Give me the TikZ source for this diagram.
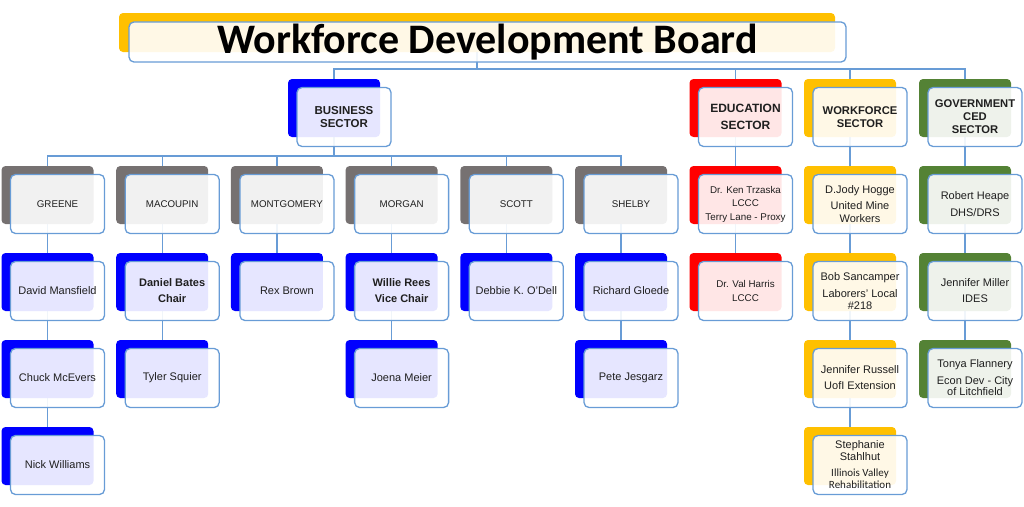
\documentclass[tikz,border=0pt]{standalone}
\usepackage{fontspec}
\setmainfont{Liberation Sans}
\newfontfamily\calfont{Carlito}
\definecolor{orgblue}{RGB}{0,0,255}
\definecolor{orggrey}{RGB}{118,113,113}
\definecolor{orgred}{RGB}{255,0,0}
\definecolor{orgorange}{RGB}{255,192,0}
\definecolor{orggreen}{RGB}{84,130,53}
\definecolor{line}{RGB}{104,156,214}
\usetikzlibrary{backgrounds}
\tikzstyle{base}=[x=1pt, y=-1pt, inner sep=2pt, outer sep=0pt]
\tikzstyle{back}=[rounded corners=4pt, minimum width=92pt, minimum height=58pt]
\tikzstyle{front}=[draw=line, line width=1.3pt, rounded corners=5pt, fill=white, fill opacity=0.9, text opacity=1, minimum width=94pt, minimum height=59pt, align=center, text=black!88]
\tikzstyle{link}=[draw=line, line width=1.2pt]
\newcommand*{\county}{\fontsize{9.75}{12}\selectfont}
\newcommand*{\person}{\fontsize{11}{12.5}\selectfont}
% back box, then the front box holding the text
\newcommand*{\orgbox}[6]{%
    \node [back, fill=#4] (#1) at (#2,#3) {};
    \node [front, font=#5] (#1-f) at (#2 + 10,#3 + 9) {#6};}

\begin{document}
\begin{tikzpicture}[base]
    \useasboundingbox (0,0) rectangle (1024,506);
    % title
    \node [back, fill=orgorange, minimum width=716pt, minimum height=39pt] (title) at (477,32.5) {};
    \node [front, minimum width=717pt, minimum height=40pt, text=black, font=\calfont\bfseries\fontsize{42}{46}\selectfont] (title-f) at (487.5,42) {Workforce Development Board};
    % sectors
    \orgbox{business}{334}{108}{orgblue}{\bfseries\fontsize{11.5}{13.5}\selectfont}{BUSINESS\\SECTOR}
    \orgbox{education}{735.5}{108}{orgred}{\bfseries\fontsize{12}{17}\selectfont}{EDUCATION\\SECTOR}
    \orgbox{workforce}{850}{108}{orgorange}{\bfseries\fontsize{11.2}{12.5}\selectfont}{WORKFORCE\\SECTOR}
    \orgbox{government}{965}{108}{orggreen}{\bfseries\fontsize{11.2}{13}\selectfont}{GOVERNMENT\\CED\\SECTOR}
    % counties
    \orgbox{greene}{47.5}{195}{orggrey}{\county}{GREENE}
    \orgbox{macoupin}{162.2}{195}{orggrey}{\county}{MACOUPIN}
    \orgbox{montgomery}{276.9}{195}{orggrey}{\county}{MONTGOMERY}
    \orgbox{morgan}{391.6}{195}{orggrey}{\county}{MORGAN}
    \orgbox{scott}{506.3}{195}{orggrey}{\county}{SCOTT}
    \orgbox{shelby}{621}{195}{orggrey}{\county}{SHELBY}
    % business members
    \orgbox{mansfield}{47.5}{282}{orgblue}{\person}{David Mansfield}
    \orgbox{mcevers}{47.5}{369}{orgblue}{\person}{Chuck McEvers}
    \orgbox{williams}{47.5}{456}{orgblue}{\person}{Nick Williams}
    \orgbox{bates}{162.2}{282}{orgblue}{\bfseries\fontsize{11}{16}\selectfont}{Daniel Bates\\Chair}
    \orgbox{squier}{162.2}{369}{orgblue}{\person}{Tyler Squier}
    \orgbox{brown}{276.9}{282}{orgblue}{\person}{Rex Brown}
    \orgbox{rees}{391.6}{282}{orgblue}{\bfseries\fontsize{11}{16}\selectfont}{Willie Rees\\Vice Chair}
    \orgbox{meier}{391.6}{369}{orgblue}{\person}{Joena Meier}
    \orgbox{odell}{506.3}{282}{orgblue}{\person}{Debbie K. O'Dell}
    \orgbox{gloede}{621}{282}{orgblue}{\person}{Richard Gloede}
    \orgbox{jesgarz}{621}{369}{orgblue}{\person}{Pete Jesgarz}
    % education
    \orgbox{trzaska}{735.5}{195}{orgred}{\fontsize{9.8}{13.5}\selectfont}{Dr. Ken Trzaska\\LCCC\\Terry Lane - Proxy}
    \orgbox{harris}{735.5}{282}{orgred}{\fontsize{9.8}{14}\selectfont}{Dr. Val Harris\\LCCC}
    % workforce
    \orgbox{hogge}{850}{195}{orgorange}{\person}{D.Jody Hogge\\[3.5pt]United Mine\\Workers}
    \orgbox{sancamper}{850}{282}{orgorange}{\fontsize{11}{11.5}\selectfont}{Bob Sancamper\\[5.5pt]Laborers' Local\\\#218}
    \orgbox{russell}{850}{369}{orgorange}{\person}{Jennifer Russell\\[3.5pt]UofI Extension}
    \orgbox{stahlhut}{850}{456}{orgorange}{\fontsize{11}{12}\selectfont}{Stephanie\\Stahlhut\\[4pt]{\calfont Illinois Valley}\\{\calfont Rehabilitation}}
    % government
    \orgbox{heape}{965}{195}{orggreen}{\person}{Robert Heape\\[4pt]DHS/DRS}
    \orgbox{miller}{965}{282}{orggreen}{\person}{Jennifer Miller\\[3.5pt]IDES}
    \orgbox{flannery}{965}{369}{orggreen}{\fontsize{11}{11.5}\selectfont}{Tonya Flannery\\[5pt]Econ Dev - City\\of Litchfield}
    % connectors, behind the boxes
    \coordinate (sectorbus) at (0,69);
    \coordinate (countybus) at (0,156);
    \begin{scope}[on background layer]
        \draw [link] (title.center) |- (sectorbus -| business.center) -- (business.center);
        \draw [link] (title.center) |- (sectorbus -| education.center) -- (education.center);
        \draw [link] (title.center) |- (sectorbus -| workforce.center) -- (workforce.center);
        \draw [link] (title.center) |- (sectorbus -| government.center) -- (government.center);
        \draw [link] (business.center) |- (countybus -| greene.center) -- (greene.center);
        \draw [link] (business.center) |- (countybus -| macoupin.center) -- (macoupin.center);
        \draw [link] (business.center) |- (countybus -| montgomery.center) -- (montgomery.center);
        \draw [link] (business.center) |- (countybus -| morgan.center) -- (morgan.center);
        \draw [link] (business.center) |- (countybus -| scott.center) -- (scott.center);
        \draw [link] (business.center) |- (countybus -| shelby.center) -- (shelby.center);
        \draw [link] (greene.center) -- (mansfield.center) -- (mcevers.center) -- (williams.center);
        \draw [link] (macoupin.center) -- (bates.center) -- (squier.center);
        \draw [link] (montgomery.center) -- (brown.center);
        \draw [link] (morgan.center) -- (rees.center) -- (meier.center);
        \draw [link] (scott.center) -- (odell.center);
        \draw [link] (shelby.center) -- (gloede.center) -- (jesgarz.center);
        \draw [link] (education.center) -- (trzaska.center) -- (harris.center);
        \draw [link] (workforce.center) -- (hogge.center) -- (sancamper.center) -- (russell.center) -- (stahlhut.center);
        \draw [link] (government.center) -- (heape.center) -- (miller.center) -- (flannery.center);
    \end{scope}
\end{tikzpicture}
\end{document}
